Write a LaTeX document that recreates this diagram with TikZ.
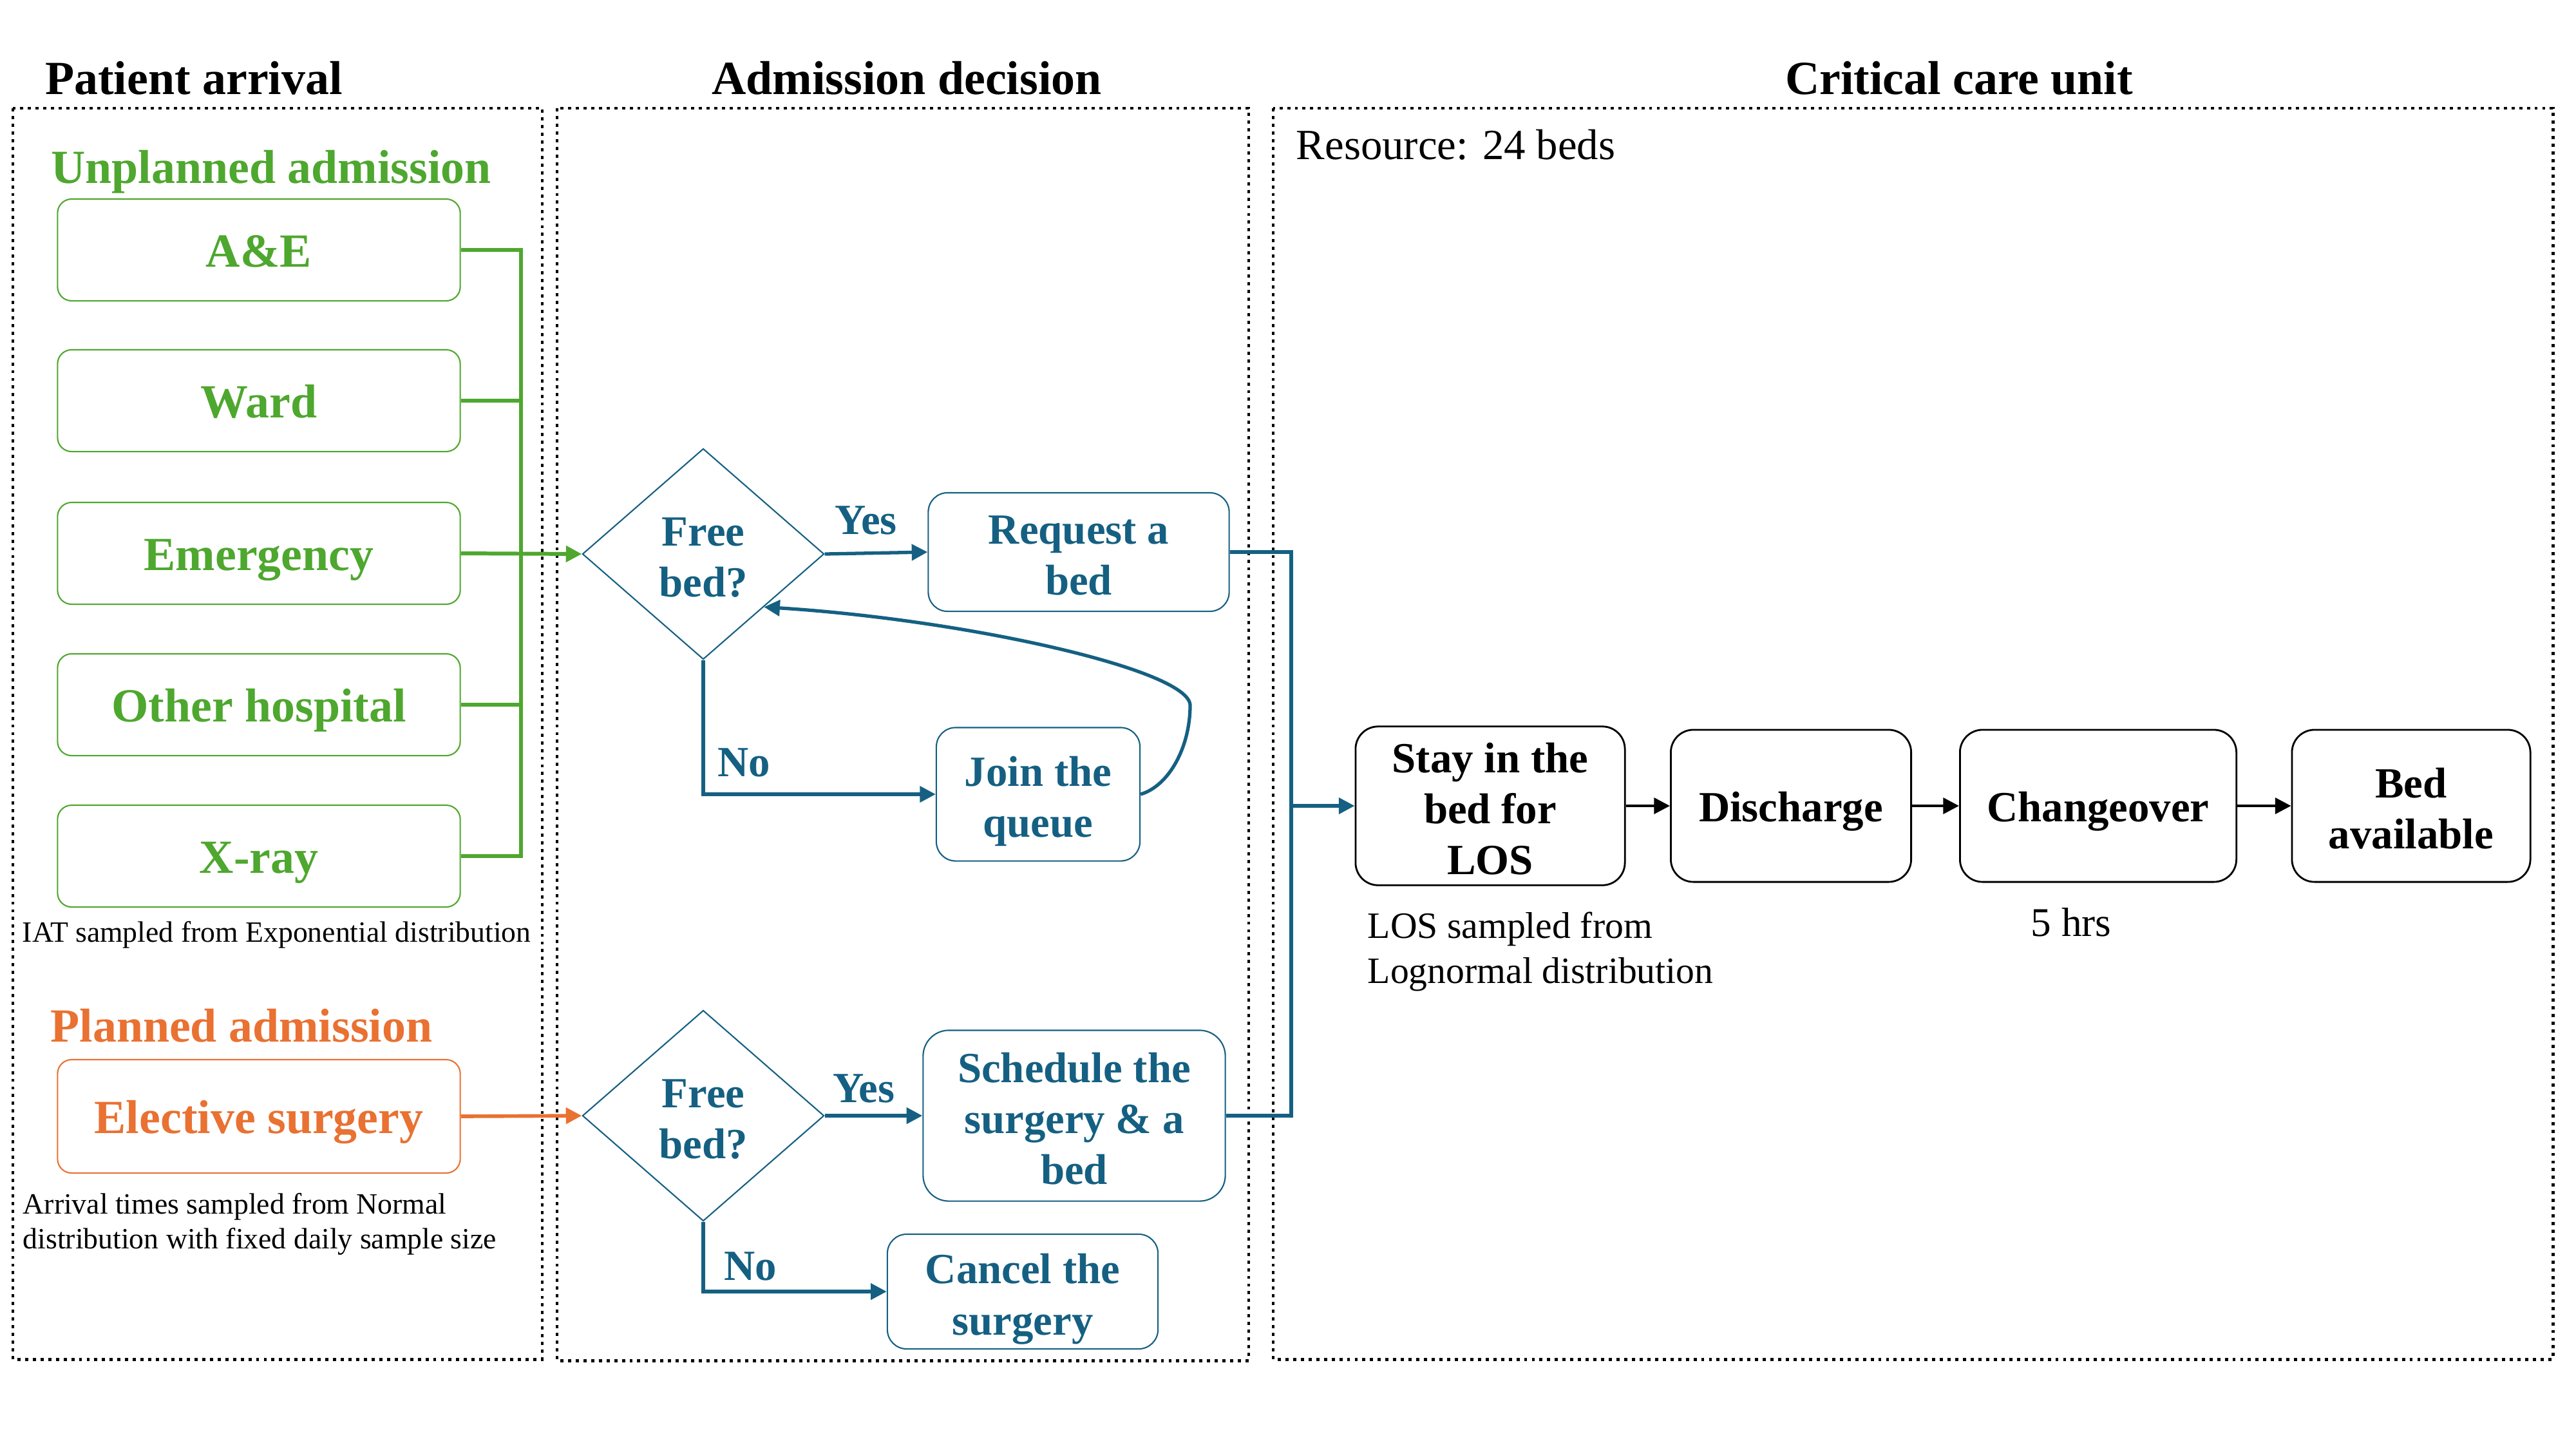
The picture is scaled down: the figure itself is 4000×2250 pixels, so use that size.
\documentclass[tikz,border=0pt]{standalone}
\usepackage{fontspec}
\setmainfont{Liberation Serif}
\usepackage{tikz}
\usetikzlibrary{shapes.geometric,arrows.meta,calc,positioning}
\definecolor{arrgreen}{HTML}{4EA72E}
\definecolor{arrorange}{HTML}{E97132}
\definecolor{decblue}{HTML}{156082}
\newcommand{\tallline}{\rule{0pt}{1.07em}}

\begin{document}
\begin{tikzpicture}[x=0.01cm, y=-0.01cm, >={Triangle[length=7pt,width=7pt]}, line width=1.6pt,
   frame/.style={line width=1.4pt, dash pattern=on 1.4pt off 2pt},
   head/.style={font=\fontsize{21}{25}\selectfont\bfseries, anchor=base, inner sep=0pt},
   lines/.style={execute at begin node={\rule{0pt}{0.98em}}, execute at end node={\rule[-0.25em]{0pt}{0.25em}}}]
   \useasboundingbox (0,0) rectangle (4000,2250);
   \draw[frame] (20,168) rectangle (842,2110);
   \draw[frame] (865,168) rectangle (1939,2112);
   \draw[frame] (1977,168) rectangle (3964,2110);
   \node[head] (t1) at (301,146) {Patient arrival};
   \node[head] (t2) at (1408,146) {Admission decision};
   \node[head] (t3) at (3042,146) {Critical care unit};
   \node[head, text=arrgreen] (unpl) at (421,284) {Unplanned admission};
   \node[head, text=arrorange] (plan) at (375,1617) {Planned admission};
   \begin{scope}[every node/.style={draw=arrgreen, text=arrgreen, rounded corners=0.22cm, line width=0.6pt, minimum width=6.25cm, minimum height=1.58cm, lines, font=\fontsize{21}{25}\selectfont\bfseries}]
    \node (ae) at (402,388) {A\&E};
    \node (ward) at (402,622) {Ward};
    \node (emer) at (402,859) {Emergency};
    \node (other) at (402,1094) {Other hospital};
    \node (xray) at (402,1329) {X-ray};
    \node (elect) [draw=arrorange, text=arrorange, minimum height=1.76cm] at (402,1733) {Elective surgery};
   \end{scope}
   \begin{scope}[every node/.style={font=\fontsize{13}{15.5}\selectfont, inner sep=0pt, align=left}]
    \node (iat) [anchor=base west] at (32,1462) {IAT sampled from Exponential distribution};
    \node (arrt) [anchor=north west] at (33,1849) {Arrival times sampled from Normal\\distribution with fixed daily sample size};
   \end{scope}
   \begin{scope}[every node/.style={draw=decblue, text=decblue, line width=0.6pt, rounded corners=0.3cm, align=center, inner ysep=0pt, lines, font=\fontsize{19}{22.5}\selectfont\bfseries}]
    \node (d1) [diamond, sharp corners, minimum width=3.75cm, minimum height=3.27cm, inner sep=0pt] at (1092,860) {\tallline Free\\bed?};
    \node (req) [minimum width=4.67cm, minimum height=1.84cm] at (1675,857) {\tallline Request a\\bed};
    \node (queue) [minimum width=3.16cm, minimum height=2.07cm] at (1612,1233) {\tallline Join the\\queue};
    \node (d2) [diamond, sharp corners, minimum width=3.75cm, minimum height=3.27cm, inner sep=0pt] at (1092,1732) {\tallline Free\\bed?};
    \node (sched) [minimum width=4.69cm, minimum height=2.65cm, rounded corners=0.4cm] at (1668,1732) {\tallline Schedule the\\surgery \& a\\bed};
    \node (cancel) [minimum width=4.20cm, minimum height=1.78cm] at (1588,2005) {\tallline Cancel the\\surgery};
   \end{scope}
   \begin{scope}[every node/.style={draw, line width=0.8pt, rounded corners=0.35cm, align=center, inner ysep=0pt, minimum height=2.36cm, lines, font=\fontsize{19}{22.5}\selectfont\bfseries}]
    \node (stay) [minimum width=4.18cm] at (2314,1251) {\tallline Stay in the\\bed for\\LOS};
    \node (dis) [minimum width=3.73cm] at (2781,1251) {Discharge};
    \node (change) [minimum width=4.29cm] at (3258,1251) {Changeover};
    \node (avail) [minimum width=3.70cm] at (3744,1251) {\tallline Bed\\available};
   \end{scope}
   \node (res) [anchor=base west, inner sep=0pt, font=\fontsize{19}{22.5}\selectfont] at (2010,247) {Resource: 24 beds};
   \node (los) [anchor=north west, inner sep=0pt, align=left, font=\fontsize{16.4}{19.8}\selectfont] at (2121,1413) {LOS sampled from\\Lognormal distribution};
   \node (hrs) [anchor=base, inner sep=0pt, font=\fontsize{18}{21}\selectfont] at (3216,1453) {5 hrs};
   \coordinate (gbus) at (809,0);
   \draw[arrgreen, line width=1.7pt] (ae.east) -| (gbus |- xray.east) -- (xray.east);
   \draw[arrgreen, line width=1.7pt] (ward.east) -- (ward.east -| gbus);
   \draw[arrgreen, line width=1.7pt] (other.east) -- (other.east -| gbus);
   \draw[arrgreen, line width=1.7pt, ->] (emer.east) -- (d1.west);
   \draw[arrorange, ->] (elect.east) -- (d2.west);
   \begin{scope}[decblue, line width=1.5pt, every node/.style={text=decblue, font=\fontsize{19}{22.5}\selectfont\bfseries}]
    \draw[->] (d1.east) -- node[above=4pt, pos=0.4]{Yes} (req.west);
    \draw[->] (d1.south) |- node[pos=0.5, above right, xshift=0.08cm, yshift=0.13cm]{No} (queue.west);
    \draw[->] (queue.east) .. controls (1815,1220) and (1848,1160) .. (1848,1095) .. controls (1848,1040) and (1500,962) .. (d1.south east);
    \draw[->] (d2.east) -- node[above=1.5pt, pos=0.4]{Yes} (sched.west);
    \draw[->] (d2.south) |- node[pos=0.5, above right, xshift=0.18cm, yshift=0.03cm]{No} (cancel.west);
    \coordinate (merge) at (2005,1251);
    \draw (req.east) -| (merge);
    \draw (sched.east) -| (merge);
    \draw[->] (merge) -- (stay.west);
   \end{scope}
   \begin{scope}[->, every edge/.style={draw=black, line width=1.3pt}]
    \draw (stay) edge (dis);
    \draw (dis) edge (change);
    \draw (change) edge (avail);
   \end{scope}
\end{tikzpicture}
\end{document}
